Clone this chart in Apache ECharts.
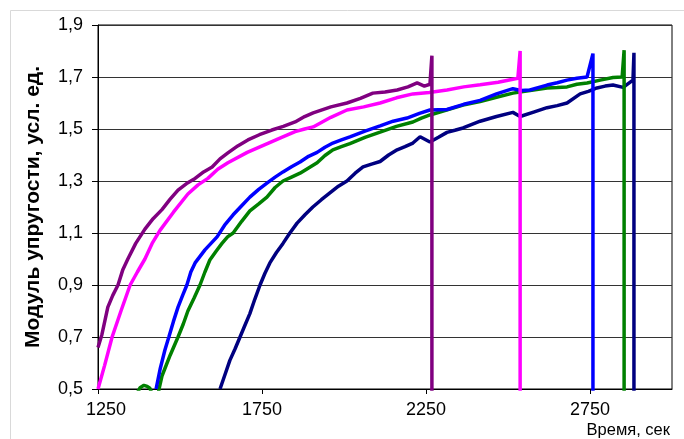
<!DOCTYPE html>
<html>
<head>
<meta charset="utf-8">
<script src="https://cdn.jsdelivr.net/npm/echarts@6/dist/echarts.min.js"></script>
<style>
html,body{margin:0;padding:0;background:#fff;}
#chart{width:684px;height:439px;}
</style>
</head>
<body>
<div id="chart"></div>
<script>
// X axis (time, s) tick values
const xTicks = [1250, 1750, 2250, 2750];
const yTicks = [0.5, 0.7, 0.9, 1.1, 1.3, 1.5, 1.7, 1.9];

// Series: purple
const purpleT = [1250,1262,1280,1295,1311,1326,1341,1365,1393,1418,1445,1470,1494,1520,1546,1572,1598,1622,1646,1676,1707,1742,1780,1815,1851,1880,1906,1960,2009,2050,2088,2125,2162,2195,2223,2245,2262,2268,2268];
const purpleV = [0.66,0.71,0.815,0.86,0.9,0.96,1.0,1.06,1.115,1.155,1.19,1.23,1.265,1.29,1.31,1.335,1.354,1.385,1.408,1.435,1.458,1.478,1.496,1.51,1.527,1.548,1.562,1.585,1.6,1.618,1.638,1.642,1.65,1.662,1.677,1.665,1.672,1.782,0.3];
// Series: magenta
const magentaT = [1250,1270,1293,1320,1348,1370,1393,1415,1439,1480,1524,1555,1585,1615,1646,1705,1768,1810,1851,1880,1906,1960,2009,2060,2110,2160,2210,2260,2314,2365,2415,2470,2530,2537,2537];
const magentaV = [0.5,0.59,0.7,0.8,0.9,0.95,1.0,1.06,1.11,1.18,1.25,1.285,1.31,1.345,1.37,1.41,1.445,1.468,1.49,1.5,1.508,1.545,1.573,1.585,1.60,1.62,1.635,1.64,1.65,1.662,1.67,1.68,1.695,1.80,0.3];
// Series: blue
const blueT = [1427,1440,1454,1466,1480,1494,1508,1521,1533,1546,1576,1613,1636,1662,1688,1713,1740,1765,1790,1814,1840,1866,1892,1918,1942,1966,1992,2018,2064,2110,2150,2192,2230,2262,2314,2365,2415,2465,2515,2540,2567,2619,2650,2680,2710,2741,2759,2759];
const blueV = [0.5,0.58,0.65,0.7,0.76,0.815,0.86,0.9,0.95,0.985,1.035,1.085,1.13,1.17,1.205,1.238,1.268,1.292,1.315,1.335,1.355,1.373,1.395,1.41,1.43,1.446,1.458,1.47,1.492,1.512,1.53,1.542,1.56,1.573,1.575,1.595,1.61,1.635,1.655,1.648,1.65,1.669,1.678,1.688,1.695,1.7,1.79,0.3];
// Series: green
const greenT = [1372,1378,1390,1400,1408,1412,1430,1436,1445,1470,1494,1510,1524,1543,1561,1576,1591,1610,1628,1645,1662,1688,1713,1740,1765,1790,1814,1840,1866,1892,1918,1942,1966,1992,2018,2064,2110,2160,2210,2236,2262,2310,2363,2415,2465,2515,2567,2619,2650,2680,2710,2741,2781,2820,2848,2854,2854];
const greenV = [0.49,0.505,0.514,0.51,0.503,0.49,0.45,0.5,0.55,0.63,0.7,0.75,0.8,0.85,0.9,0.95,0.996,1.03,1.06,1.085,1.1,1.145,1.185,1.212,1.238,1.275,1.30,1.315,1.33,1.35,1.37,1.398,1.42,1.432,1.444,1.468,1.488,1.51,1.527,1.542,1.554,1.572,1.592,1.606,1.622,1.638,1.648,1.658,1.66,1.662,1.672,1.677,1.688,1.698,1.7,1.803,0.3];
// Series: navy
const navyT = [1622,1637,1652,1668,1683,1698,1713,1728,1744,1759,1774,1794,1814,1835,1857,1881,1905,1931,1957,1983,2009,2034,2058,2084,2110,2136,2162,2186,2210,2232,2262,2288,2314,2338,2363,2390,2415,2465,2515,2537,2578,2619,2650,2680,2720,2745,2771,2796,2820,2851,2881,2884,2884];
const navyV = [0.5,0.555,0.61,0.655,0.7,0.745,0.79,0.845,0.9,0.945,0.985,1.025,1.06,1.1,1.138,1.17,1.2,1.228,1.254,1.28,1.3,1.33,1.354,1.365,1.375,1.4,1.42,1.432,1.446,1.47,1.45,1.468,1.487,1.495,1.504,1.518,1.53,1.548,1.564,1.548,1.565,1.582,1.59,1.6,1.635,1.645,1.658,1.665,1.669,1.66,1.688,1.793,0.3];

const yTitle = 'Модуль упругости, усл. ед.';
const xTitle = 'Время, сек';

function pairs(t, v) { return t.map((x, i) => [x, v[i]]); }
function mk(name, color, t, v) {
  return {
    name: name, type: 'line', data: pairs(t, v), showSymbol: false, symbol: 'none',
    lineStyle: { color: color, width: 3.5 }, itemStyle: { color: color },
    clip: true, animation: false
  };
}

const chart = echarts.init(document.getElementById('chart'));
const font = 'Liberation Sans, Arial, sans-serif';
chart.setOption({
  animation: false,
  backgroundColor: '#fff',
  graphic: [{
    type: 'rect', left: 8, top: 8, silent: true,
    shape: { width: 700, height: 460 },
    style: { fill: 'none', stroke: '#d9d9d9', lineWidth: 1 }
  }],
  grid: { left: 98, top: 25, right: 12, bottom: 50, show: true, borderColor: '#000', borderWidth: 1, backgroundColor: 'transparent' },
  xAxis: {
    type: 'value', min: xTicks[0], max: 3000, interval: xTicks[1] - xTicks[0],
    name: xTitle, nameLocation: 'end', nameGap: -2,
    nameTextStyle: { fontFamily: font, fontSize: 16.5, color: '#000', align: 'right', verticalAlign: 'top', padding: [33, 0, 0, 0] },
    axisLine: { lineStyle: { color: '#000', width: 1 } },
    axisTick: { show: true, length: 5, inside: false, lineStyle: { color: '#000' } },
    splitLine: { show: false },
    axisLabel: {
      fontFamily: font, fontSize: 18, color: '#000', margin: 12,
      showMaxLabel: false,
      formatter: function (v) { return v === xTicks[0] ? '{a|' + v + '}' : String(v); },
      rich: { a: { fontFamily: font, fontSize: 18, color: '#000', padding: [0, 0, 0, 16] } }
    }
  },
  yAxis: {
    type: 'value', min: yTicks[0], max: yTicks[yTicks.length - 1], interval: 0.2,
    name: yTitle, nameLocation: 'middle', nameGap: 54,
    nameTextStyle: { fontFamily: font, fontSize: 21, fontWeight: 'bold', color: '#000' },
    axisLine: { show: true, lineStyle: { color: '#000', width: 1 } },
    axisTick: { show: true, length: 6, inside: false, lineStyle: { color: '#000' } },
    splitLine: { show: true, lineStyle: { color: '#333', width: 1 } },
    axisLabel: {
      fontFamily: font, fontSize: 18, color: '#000', margin: 15,
      formatter: function (v) { return v.toFixed(1).replace('.', ','); }
    }
  },
  series: [
    mk('navy', '#000080', navyT, navyV),
    mk('green', '#008000', greenT, greenV),
    mk('blue', '#0000FF', blueT, blueV),
    mk('magenta', '#FF00FF', magentaT, magentaV),
    mk('purple', '#800080', purpleT, purpleV)
  ]
});
</script>
</body>
</html>
